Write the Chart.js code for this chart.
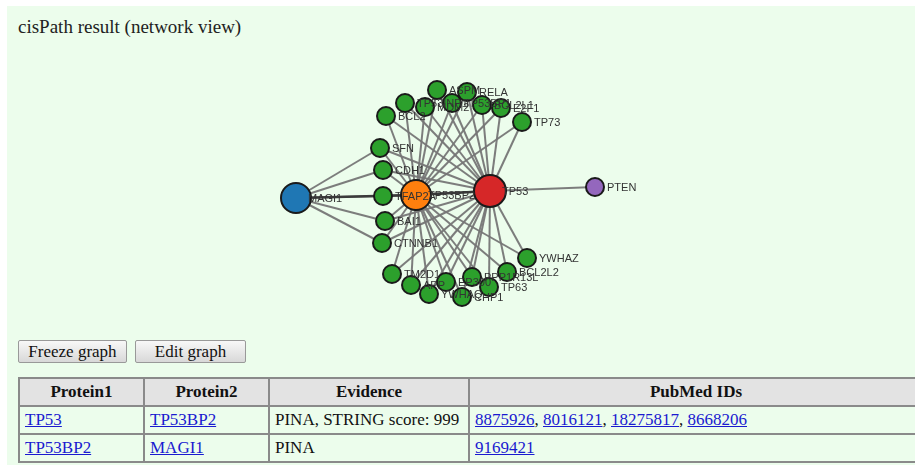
<!DOCTYPE html>
<html><head><meta charset="utf-8">
<script src="https://cdn.jsdelivr.net/npm/chart.js@4/dist/chart.umd.min.js"></script>
<style>
html,body{margin:0;padding:0;background:#fff;width:915px;height:465px;overflow:hidden;}
#page{position:absolute;left:7px;top:6px;width:920px;height:470px;background:#ecfdec;}
#title{position:absolute;left:18px;top:16px;font:19px "Liberation Serif",serif;color:#222;}
#net{position:absolute;left:0;top:0;}
.btn{position:absolute;top:340px;height:23px;font:17px "Liberation Serif",serif;color:#111;background:linear-gradient(#f8f8f8,#d8d8d8);border:1px solid #999;border-radius:2px;box-sizing:border-box;text-align:center;line-height:21px;}
table{position:absolute;left:18px;top:377px;width:906px;border-collapse:collapse;font:17px "Liberation Serif",serif;color:#111;}
tr{height:28px;}
td,th{border:2px solid #8a8a8a;padding:0 5px;text-align:left;}
th{background:#e3e3e3;text-align:center;font-weight:bold;}
a{color:#1a1ad0;text-decoration:underline;}
</style></head>
<body>
<div id="page"></div>
<div id="title">cisPath result (network view)</div>
<canvas id="net" width="915" height="330"></canvas>
<div class="btn" style="left:18px;width:109px;">Freeze graph</div>
<div class="btn" style="left:135px;width:111px;">Edit graph</div>
<table>
<colgroup><col style="width:125px"><col style="width:125px"><col style="width:200px"><col></colgroup>
<tr><th>Protein1</th><th>Protein2</th><th>Evidence</th><th>PubMed IDs</th></tr>
<tr><td><a>TP53</a></td><td><a>TP53BP2</a></td><td>PINA, STRING score: 999</td><td><a>8875926</a>, <a>8016121</a>, <a>18275817</a>, <a>8668206</a></td></tr>
<tr><td><a>TP53BP2</a></td><td><a>MAGI1</a></td><td>PINA</td><td><a>9169421</a></td></tr>
</table>
<script>
// Network nodes (layout positions)
const nodeNames = ["MAGI1","TP53BP2","TP53","PTEN","SFN","CDH1","TFAP2A","BAI1","CTNNB1","BCL2","TP53INP1","MDM2","ASPM","TP53BP1","RELA","BCL2L1","E2F1","TP73","TM2D1","APP","YWHAQ","EP300","CHP1","PPP1R13L","TP63","BCL2L2","YWHAZ"];
const nodeX = [296,416,490,595,380,383,383,385,382,386,405,425,437,452,467,482,501,522,392,411,429,446,462,472,489,507,527];
const nodeY = [198,195,191,187,148,170,196,221,243,116,103,107,90,103,92,105,108,122,274,285,294,282,297,277,287,272,258];
const nodeGroup = ["query1","path","query2","other","g","g","g","g","g","g","g","g","g","g","g","g","g","g","g","g","g","g","g","g","g","g","g"];
const greens = nodeNames.slice(4);
const leftGreens = ["SFN","CDH1","TFAP2A","BAI1","CTNNB1"];
const edgeFrom = ["MAGI1","TP53BP2","TP53"].concat(greens, greens, leftGreens);
const edgeTo = ["TP53BP2","TP53","PTEN"].concat(greens.map(()=>"TP53"), greens.map(()=>"TP53BP2"), leftGreens.map(()=>"MAGI1"));
const pathEdges = ["MAGI1-TP53BP2","TP53BP2-TP53"];

const groupColor = {query1:"#1f77b4", path:"#ff7f0e", query2:"#d62728", other:"#9467bd", g:"#2ca02c"};
const groupRadius = {query1:15, path:15, query2:16, other:9, g:9};

const idx = n => nodeNames.indexOf(n);
const datasets = [];
for (let i = 0; i < edgeFrom.length; i++) {
  const a = idx(edgeFrom[i]), b = idx(edgeTo[i]);
  const isPath = pathEdges.includes(edgeFrom[i] + "-" + edgeTo[i]);
  datasets.push({type:"scatter", showLine:true, order:isPath ? 1 : 2, data:[{x:nodeX[a],y:nodeY[a]},{x:nodeX[b],y:nodeY[b]}],
    borderColor:isPath ? "#3a3a3a" : "rgba(118,118,118,0.95)", borderWidth:isPath ? 2.5 : 2, pointRadius:0, clip:false});
}
datasets.push({type:"scatter", order:0, data:nodeNames.map((n,i)=>({x:nodeX[i],y:nodeY[i]})),
  pointRadius:nodeGroup.map(g=>groupRadius[g]), pointHoverRadius:nodeGroup.map(g=>groupRadius[g]),
  backgroundColor:nodeGroup.map(g=>groupColor[g]), borderColor:"#1a1a1a", borderWidth:2, clip:false});

const labelPlugin = {id:"labels", afterDatasetsDraw(chart){
  const ctx = chart.ctx, xs = chart.scales.x, ys = chart.scales.y;
  ctx.save();
  ctx.font = "11px 'Liberation Sans', Arial, sans-serif";
  ctx.fillStyle = "#333"; ctx.textBaseline = "middle"; ctx.textAlign = "left";
  nodeNames.forEach((n,i)=>{ ctx.fillText(n, xs.getPixelForValue(nodeX[i]) + 12, ys.getPixelForValue(nodeY[i]) + 1); });
  ctx.restore();
}};

new Chart(document.getElementById("net"), {
  type:"scatter",
  data:{datasets},
  options:{responsive:false, animation:false, events:[],
    layout:{padding:0, autoPadding:false},
    plugins:{legend:{display:false}, tooltip:{enabled:false}},
    scales:{x:{type:"linear", display:false, min:0, max:915},
            y:{type:"linear", display:false, min:0, max:330, reverse:true}}},
  plugins:[labelPlugin]
});
</script>
</body></html>
